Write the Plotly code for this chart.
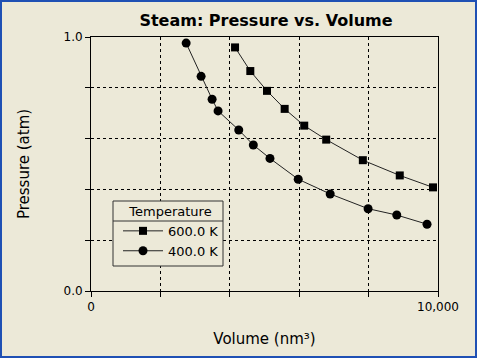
import plotly.graph_objects as go

# Data
vol_600 = [4151, 4591, 5072, 5581, 6145, 6778, 7834, 8898, 9856]
p_600 = [0.959, 0.866, 0.788, 0.717, 0.651, 0.596, 0.515, 0.455, 0.408]
vol_400 = [2742, 3173, 3490, 3662, 4258, 4678, 5158, 5972, 6893, 7986, 8812, 9684]
p_400 = [0.976, 0.845, 0.755, 0.709, 0.634, 0.575, 0.522, 0.440, 0.382, 0.324, 0.299, 0.263]
series_names = ["600.0 K", "400.0 K"]
x_tickvals = [0, 2000, 4000, 6000, 8000, 10000]
x_ticktext = ["0", "", "", "", "", "10,000"]
y_tickvals = [0.0, 0.2, 0.4, 0.6, 0.8, 1.0]
y_ticktext = ["0.0", "", "", "", "", "1.0"]

W, H = 477, 358
L, R, T, B = 91, 39, 37, 67
pw, ph = W - L - R, H - T - B

BG = "#ECE9D8"
FONT = "Tahoma, DejaVu Sans, sans-serif"

fig = go.Figure()
fig.add_trace(go.Scatter(x=vol_600, y=p_600, name=series_names[0], mode="lines+markers",
                         line=dict(color="#222222", width=1),
                         marker=dict(symbol="square", size=8, color="black")))
fig.add_trace(go.Scatter(x=vol_400, y=p_400, name=series_names[1], mode="lines+markers",
                         line=dict(color="#222222", width=1),
                         marker=dict(symbol="circle", size=9, color="black")))

def px2x(px):
    return (px - L) / pw

def py2y(py):
    return (H - B - py) / ph

fig.update_layout(
    width=W, height=H,
    margin=dict(l=L, r=R, t=T, b=B),
    paper_bgcolor=BG, plot_bgcolor=BG,
    font=dict(family=FONT, color="black", size=13),
    title=dict(text="<b>Steam: Pressure vs. Volume</b>", x=266 / W,
               xanchor="center", y=1 - 20 / H, yanchor="middle",
               font=dict(size=16, family=FONT)),
    xaxis=dict(range=[0, 10000], tickvals=x_tickvals, ticktext=x_ticktext,
               showgrid=True, gridcolor="black", griddash="dot", gridwidth=1,
               showline=True, linecolor="black", linewidth=1, mirror=True,
               ticks="outside", ticklen=5, tickcolor="black", zeroline=False,
               title=dict(text="Volume (nm³)", font=dict(size=15), standoff=20),
               tickfont=dict(size=12)),
    yaxis=dict(range=[0, 1.0], tickvals=y_tickvals, ticktext=y_ticktext,
               showgrid=True, gridcolor="black", griddash="dot", gridwidth=1,
               showline=True, linecolor="black", linewidth=1, mirror=True,
               ticks="outside", ticklen=5, tickcolor="black", zeroline=False,
               title=dict(text="Pressure (atm)", font=dict(size=15), standoff=30),
               tickfont=dict(size=12)),
    legend=dict(x=px2x(118), y=py2y(199), xanchor="left", yanchor="top",
                bgcolor="rgba(0,0,0,0)", borderwidth=0,
                title=dict(text="Temperature", side="top center", font=dict(size=13)),
                font=dict(size=13), itemwidth=40, tracegroupgap=0),
    showlegend=True,
)

# legend box (drawn behind the legend text, above the grid)
fig.add_shape(type="rect", xref="paper", yref="paper",
              x0=px2x(113), x1=px2x(223), y0=py2y(266), y1=py2y(201),
              line=dict(color="#333333", width=1), fillcolor=BG, layer="above")
# legend title separator
fig.add_shape(type="line", xref="paper", yref="paper",
              x0=px2x(113), x1=px2x(223), y0=py2y(221), y1=py2y(221),
              line=dict(color="#333333", width=1), layer="above")
# outer window border
fig.add_shape(type="rect", xref="paper", yref="paper",
              x0=px2x(1), x1=px2x(476), y0=py2y(357), y1=py2y(1),
              line=dict(color="#1F50B4", width=2), layer="above")

fig.write_html("out.html", config={"displayModeBar": False},
               post_script="document.body.style.margin='0';window.dispatchEvent(new Event('resize'));")
